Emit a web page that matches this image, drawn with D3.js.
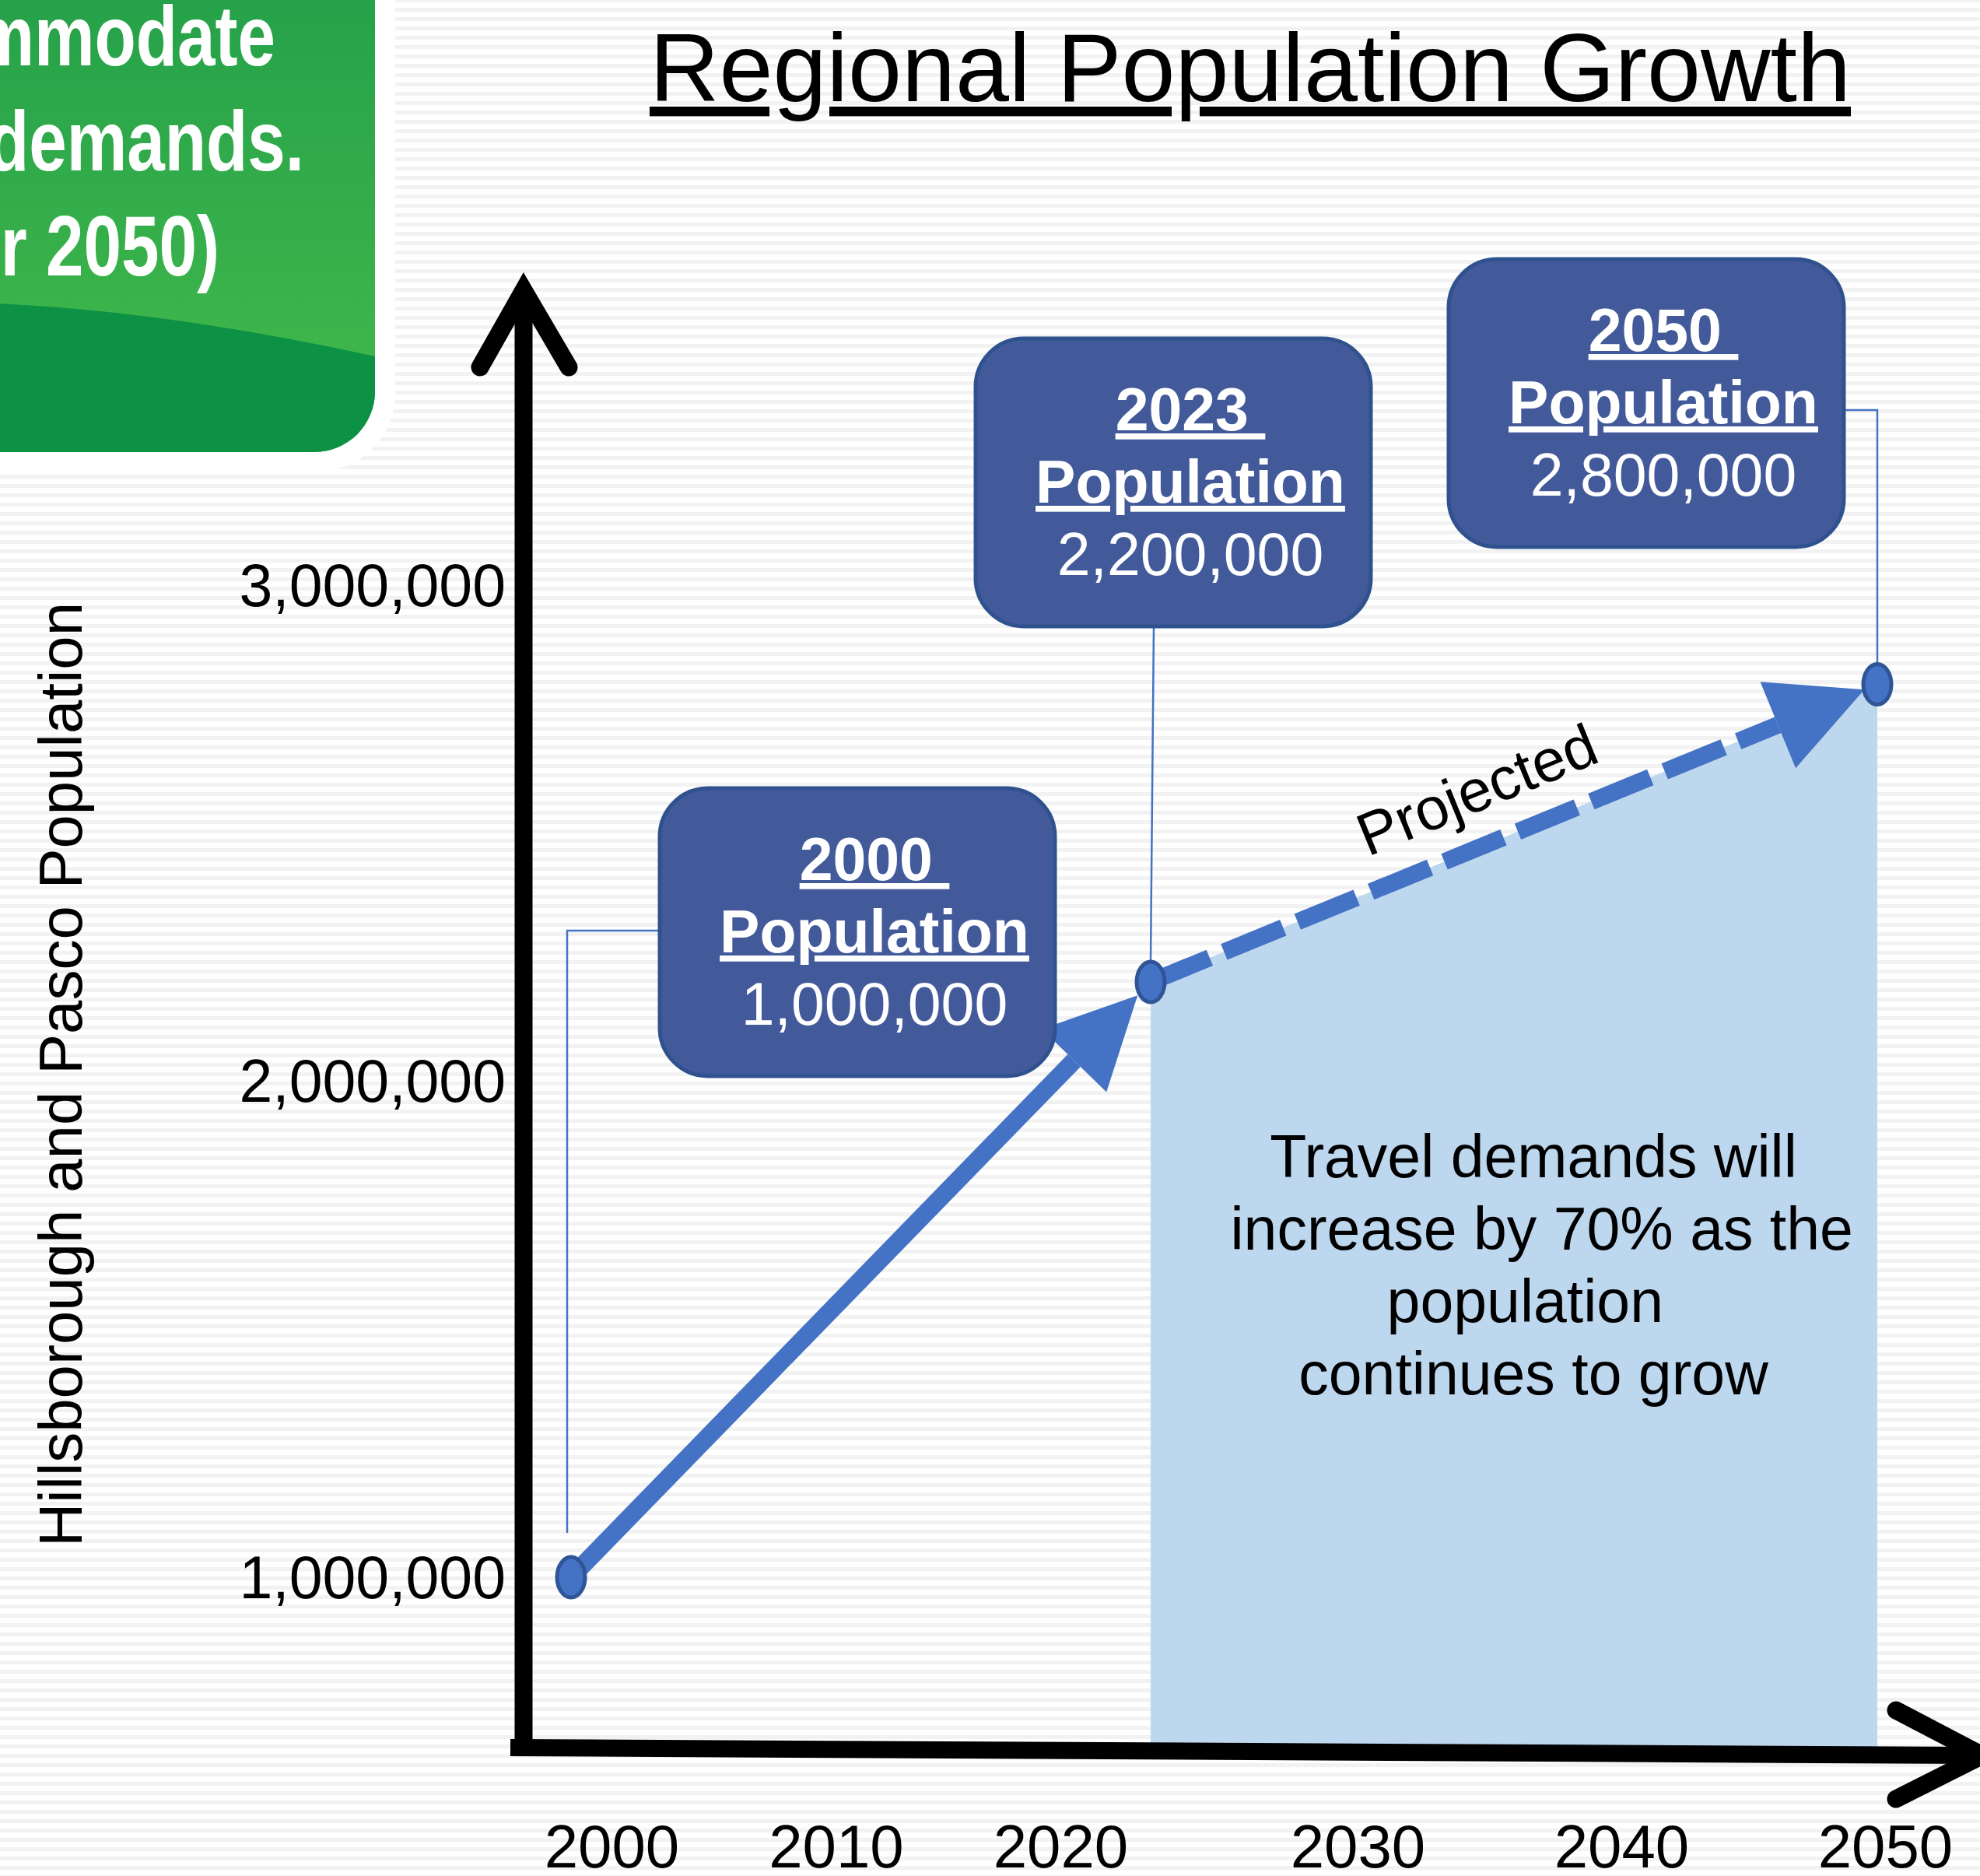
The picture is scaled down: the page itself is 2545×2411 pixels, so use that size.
<!DOCTYPE html>
<html>
<head>
<meta charset="utf-8">
<script src="https://cdn.jsdelivr.net/npm/d3@7"></script>
<style>
    body { margin: 0; background: #fff; }
    svg { display: block; }
    text { font-family: "Liberation Sans", Arial, sans-serif; }
</style>
</head>
<body>
<div id="chart"></div>
<script>
// chart values
var years = [2000, 2023, 2050];
var population = [1000000, 2200000, 2800000];
var populationLabels = ["1,000,000", "2,200,000", "2,800,000"];
var yTickValues = [1000000, 2000000, 3000000];
var xTickYears = [2000, 2010, 2020, 2030, 2040, 2050];
var noteLines = ["Travel demands will", " increase by 70% as the", "population ", "continues to grow"];
var bannerLines = ["accommodate", "demands.", "(for 2050)"];

// page size
var width = 2545,
    height = 2411;

// where the axes sit
var axisX = 673,
    axisTop = 373,
    axisY = 2250;

var svg = d3.select("#chart").append("svg")
    .attr("width", width)
    .attr("height", height);

var defs = svg.append("defs");

// striped background
var stripes = defs.append("pattern")
    .attr("id", "stripes")
    .attr("patternUnits", "userSpaceOnUse")
    .attr("width", 12)
    .attr("height", 12)
    .attr("y", 10);
stripes.append("rect").attr("width", 12).attr("height", 12).attr("fill", "#ffffff");
stripes.append("rect").attr("width", 12).attr("height", 5).attr("fill", "#f2f2f2");

svg.append("rect")
    .attr("width", width)
    .attr("height", height)
    .attr("fill", "url(#stripes)");

// green banner in the corner (mostly cut off)
var grad = defs.append("linearGradient")
    .attr("id", "bannerGrad")
    .attr("x1", 0).attr("y1", 0).attr("x2", 0).attr("y2", 1);
grad.append("stop").attr("offset", "0").attr("stop-color", "#1f9c49");
grad.append("stop").attr("offset", "0.8").attr("stop-color", "#3db54b");

defs.append("clipPath").attr("id", "bannerClip")
    .append("rect")
    .attr("x", -120).attr("y", -120)
    .attr("width", 602).attr("height", 701)
    .attr("rx", 78);

svg.append("rect")
    .attr("x", -120).attr("y", -120)
    .attr("width", 628).attr("height", 726)
    .attr("rx", 100)
    .attr("fill", "#ffffff");

var banner = svg.append("g").attr("clip-path", "url(#bannerClip)");
banner.append("rect")
    .attr("x", -120).attr("y", -120)
    .attr("width", 602).attr("height", 701)
    .attr("fill", "url(#bannerGrad)");
banner.append("path")
    .attr("d", "M-120,388 Q150,385 482,458 L482,600 L-120,600 Z")
    .attr("fill", "#0d9144");

var bannerPos = [[354, 84], [391, 219], [282, 354]];
banner.selectAll("text.banner")
    .data(bannerLines)
    .enter().append("text")
    .attr("class", "banner")
    .attr("transform", function (d, i) {
        return "translate(" + bannerPos[i][0] + "," + bannerPos[i][1] + ") scale(0.8,1)";
    })
    .attr("text-anchor", "end")
    .attr("font-size", 109)
    .attr("font-weight", "bold")
    .attr("fill", "#ffffff")
    .text(function (d) { return d; });

// set the ranges
var x = d3.scaleLinear().domain(years).range([734, 1479, 2413]);
var y = d3.scaleLinear().domain([1000000, 3000000]).range([2027, 752]);
var xLabel = d3.scaleLinear().domain([2000, 2020, 2030, 2050]).range([786, 1363, 1745, 2423]);

var pts = years.map(function (yr, i) {
    return { year: yr, pop: population[i], label: populationLabels[i], px: x(yr), py: y(population[i]) };
});

// shaded projection area
var area = d3.area()
    .x(function (d) { return d.px; })
    .y0(axisY)
    .y1(function (d) { return d.py; });

svg.append("path")
    .datum(pts.slice(1))
    .attr("d", area)
    .attr("fill", "#bdd7ee");

// arrow helper: returns shaft end and head triangle
function arrowGeom(p0, p1, gap, headLen, headHalf) {
    var dx = p1.px - p0.px, dy = p1.py - p0.py;
    var len = Math.sqrt(dx * dx + dy * dy);
    var ux = dx / len, uy = dy / len;
    var tip = [p1.px - ux * gap, p1.py - uy * gap];
    var base = [tip[0] - ux * headLen, tip[1] - uy * headLen];
    var head = [
        tip,
        [base[0] - uy * headHalf, base[1] + ux * headHalf],
        [base[0] + uy * headHalf, base[1] - ux * headHalf]
    ];
    return { base: base, head: head };
}

var blue = "#4472c4";

// actual growth: solid arrow
var solid = arrowGeom(pts[0], pts[1], 24, 117, 58);
svg.append("line")
    .attr("x1", pts[0].px).attr("y1", pts[0].py)
    .attr("x2", solid.base[0]).attr("y2", solid.base[1])
    .attr("stroke", blue)
    .attr("stroke-width", 23);
svg.append("path")
    .attr("d", d3.line()(solid.head) + "Z")
    .attr("fill", blue);

// projected growth: dashed arrow
var dashed = arrowGeom(pts[1], pts[2], 18, 120, 60);
svg.append("line")
    .attr("x1", pts[1].px).attr("y1", pts[1].py)
    .attr("x2", dashed.base[0]).attr("y2", dashed.base[1])
    .attr("stroke", blue)
    .attr("stroke-width", 22)
    .attr("stroke-dasharray", "82 20");
svg.append("path")
    .attr("d", d3.line()(dashed.head) + "Z")
    .attr("fill", blue);

// "Projected" label along the dashed line
var angle = Math.atan2(pts[2].py - pts[1].py, pts[2].px - pts[1].px) * 180 / Math.PI;
svg.append("text")
    .attr("transform", "translate(" + (pts[1].px + pts[2].px) / 2 + "," + (pts[1].py + pts[2].py) / 2 + ") rotate(" + angle + ")")
    .attr("x", -23)
    .attr("y", -43)
    .attr("text-anchor", "middle")
    .attr("font-size", 77)
    .attr("fill", "#000")
    .text("Projected");

// callout boxes
var boxW = 508, boxH = 370;
var calloutBoxes = [
    { cx: 1102, top: 1013, side: "left", elbow: 183, gap: 31 },
    { cx: 1508, top: 435, side: "bottom", elbow: 0, gap: 0 },
    { cx: 2116, top: 333, side: "right", elbow: 194, gap: 0 }
];

// leader lines
var ry = 26;
svg.selectAll("path.leader")
    .data(pts)
    .enter().append("path")
    .attr("class", "leader")
    .attr("d", function (d, i) {
        var b = calloutBoxes[i];
        var endY = d.py - ry - b.gap;
        if (b.side === "left") {
            return d3.line()([[b.cx - boxW / 2, b.top + b.elbow], [d.px - 5, b.top + b.elbow], [d.px - 5, endY]]);
        } else if (b.side === "right") {
            return d3.line()([[b.cx + boxW / 2, b.top + b.elbow], [d.px, b.top + b.elbow], [d.px, endY]]);
        }
        return d3.line()([[d.px + 4, b.top + boxH], [d.px, endY]]);
    })
    .attr("fill", "none")
    .attr("stroke", blue)
    .attr("stroke-width", 2.5);

// points
svg.selectAll("ellipse.dot")
    .data(pts)
    .enter().append("ellipse")
    .attr("class", "dot")
    .attr("cx", function (d) { return d.px; })
    .attr("cy", function (d) { return d.py; })
    .attr("rx", 18)
    .attr("ry", ry)
    .attr("fill", blue)
    .attr("stroke", "#2f5597")
    .attr("stroke-width", 5);

var callout = svg.selectAll("g.callout")
    .data(pts)
    .enter().append("g")
    .attr("class", "callout");

callout.append("rect")
    .attr("x", function (d, i) { return calloutBoxes[i].cx - boxW / 2; })
    .attr("y", function (d, i) { return calloutBoxes[i].top; })
    .attr("width", boxW)
    .attr("height", boxH)
    .attr("rx", 62)
    .attr("fill", "#435a9a")
    .attr("stroke", "#2f528f")
    .attr("stroke-width", 5);

function boxText(sel, dyLine, txt, bold) {
    sel.append("text")
        .attr("x", function (d, i) { return calloutBoxes[i].cx + 22; })
        .attr("y", function (d, i) { return calloutBoxes[i].top + dyLine; })
        .attr("text-anchor", "middle")
        .attr("font-size", 77)
        .attr("font-weight", bold ? "bold" : "normal")
        .attr("text-decoration", bold ? "underline" : "none")
        .attr("fill", "#ffffff")
        .text(txt);
}
boxText(callout, 118, function (d) { return d.year + "\u00a0"; }, true);
boxText(callout, 211, "Population", true);
boxText(callout, 304, function (d) { return d.label; }, false);

// note in the shaded area
svg.selectAll("text.note")
    .data(noteLines)
    .enter().append("text")
    .attr("class", "note")
    .attr("x", 1971)
    .attr("y", function (d, i) { return 1513 + i * 93; })
    .attr("text-anchor", "middle")
    .attr("font-size", 77)
    .attr("fill", "#000")
    .style("white-space", "pre")
    .text(function (d) { return d; });

// axis arrows
svg.append("line")
    .attr("x1", axisX).attr("y1", axisTop)
    .attr("x2", axisX).attr("y2", axisY + 4)
    .attr("stroke", "#000")
    .attr("stroke-width", 23);
svg.append("path")
    .attr("d", "M617,472 L" + axisX + "," + axisTop + " L731,472")
    .attr("fill", "none")
    .attr("stroke", "#000")
    .attr("stroke-width", 23)
    .attr("stroke-linecap", "round")
    .attr("stroke-linejoin", "miter");

svg.append("line")
    .attr("x1", 656).attr("y1", axisY - 4)
    .attr("x2", 2540).attr("y2", axisY + 6)
    .attr("stroke", "#000")
    .attr("stroke-width", 22);
svg.append("path")
    .attr("d", "M2437,2198 L2548,2256 L2437,2312")
    .attr("fill", "none")
    .attr("stroke", "#000")
    .attr("stroke-width", 23)
    .attr("stroke-linecap", "round")
    .attr("stroke-linejoin", "miter");

// tick labels
var yAxis = svg.append("g")
    .attr("transform", "translate(650,0)")
    .call(d3.axisLeft(y).tickValues(yTickValues).tickFormat(d3.format(",")).tickSize(0).tickPadding(0));
yAxis.select(".domain").remove();
yAxis.attr("font-family", null).attr("font-size", null);
yAxis.selectAll("text")
    .attr("font-size", 77)
    .attr("fill", "#000")
    .attr("dy", "0.34em");

var xAxis = svg.append("g")
    .attr("transform", "translate(0,2345)")
    .call(d3.axisBottom(xLabel).tickValues(xTickYears).tickFormat(d3.format("d")).tickSize(0).tickPadding(0));
xAxis.select(".domain").remove();
xAxis.attr("font-family", null).attr("font-size", null);
xAxis.selectAll("text")
    .attr("font-size", 78)
    .attr("fill", "#000");

// title
svg.append("text")
    .attr("x", 1607)
    .attr("y", 130)
    .attr("text-anchor", "middle")
    .attr("font-size", 124)
    .attr("text-decoration", "underline")
    .attr("fill", "#000")
    .text("Regional Population Growth");

// y axis title
svg.append("text")
    .attr("transform", "translate(105,1381) rotate(-90)")
    .attr("text-anchor", "middle")
    .attr("font-size", 78)
    .attr("fill", "#000")
    .text("Hillsborough and Pasco Population");
</script>
</body>
</html>
